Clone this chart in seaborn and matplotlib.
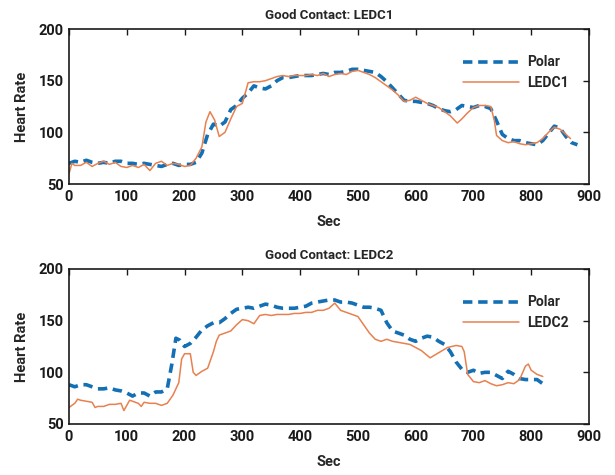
import matplotlib
matplotlib.use('Agg')

import pandas as pd
import matplotlib.pyplot as plt
import seaborn as sns

# Good Contact: LEDC1 panel
polar1_sec = [0, 10, 20, 30, 40, 50, 60, 70, 80, 90, 100, 110, 120, 130, 140, 150, 160, 170, 180, 190,
              200, 210, 220, 230, 240, 250, 260, 270, 280, 290, 300, 310, 320, 330, 340, 350, 360, 370,
              380, 390, 400, 410, 420, 430, 440, 450, 460, 470, 480, 490, 500, 510, 520, 530, 540, 550,
              560, 570, 580, 590, 600, 610, 620, 630, 640, 650, 660, 670, 680, 690, 700, 710, 720, 730,
              740, 750, 760, 770, 780, 790, 800, 810, 820, 830, 840, 850, 860, 870, 880]
polar1_hr = [70, 72, 71, 73, 71, 70, 71, 70, 72, 72, 70, 70, 69, 70, 69, 68, 67, 69, 70, 68,
             69, 69, 71, 80, 98, 108, 106, 110, 122, 126, 133, 138, 145, 143, 142, 145, 150, 153,
             153, 154, 155, 155, 155, 156, 157, 156, 158, 158, 159, 161, 161, 160, 159, 158, 154, 149,
             143, 137, 131, 130, 130, 129, 128, 126, 123, 121, 120, 122, 126, 125, 124, 126, 125, 123,
             111, 98, 94, 92, 92, 90, 89, 88, 92, 99, 106, 104, 96, 90, 88]

ledc1_sec = [0, 5, 10, 20, 30, 40, 50, 60, 70, 80, 90, 100, 110, 120, 130, 140, 150, 160, 170, 180,
             190, 200, 210, 220, 230, 237, 244, 252, 260, 270, 280, 290, 300, 310, 320, 330, 340, 350,
             360, 370, 380, 390, 400, 410, 420, 430, 440, 450, 460, 470, 480, 490, 500, 510, 520, 530,
             540, 550, 560, 570, 580, 590, 600, 610, 620, 630, 640, 650, 660, 672, 680, 690, 700, 710,
             720, 730, 736, 740, 750, 760, 770, 780, 790, 800, 810, 820, 830, 840, 850, 860, 868]
ledc1_hr = [60, 70, 68, 68, 71, 67, 70, 72, 69, 71, 67, 66, 68, 66, 69, 63, 70, 72, 68, 70,
            69, 67, 68, 75, 86, 110, 120, 112, 96, 100, 113, 125, 128, 148, 149, 149, 150, 152,
            154, 155, 154, 155, 155, 155, 156, 155, 157, 154, 156, 157, 156, 159, 160, 158, 156, 153,
            149, 145, 141, 136, 130, 131, 134, 131, 128, 126, 124, 120, 116, 109, 113, 119, 124, 126,
            126, 125, 112, 97, 92, 90, 91, 89, 88, 89, 90, 94, 100, 105, 103, 98, 94]

# Good Contact: LEDC2 panel
polar2_sec = [0, 10, 20, 30, 40, 50, 60, 70, 80, 90, 100, 110, 120, 130, 140, 150, 160, 170, 178, 185,
              192, 200, 210, 220, 230, 240, 250, 260, 270, 280, 290, 300, 310, 320, 330, 340, 350, 360,
              370, 380, 390, 400, 410, 420, 430, 440, 450, 460, 470, 480, 490, 500, 510, 520, 530, 540,
              550, 560, 570, 580, 590, 600, 610, 620, 630, 640, 650, 660, 670, 680, 690, 700, 710, 720,
              730, 740, 750, 760, 770, 780, 790, 800, 810, 820]
polar2_hr = [88, 86, 88, 88, 86, 84, 84, 85, 83, 82, 80, 77, 80, 80, 77, 81, 81, 84, 108, 133,
             131, 125, 128, 134, 141, 145, 148, 148, 152, 157, 161, 162, 163, 162, 164, 166, 165, 163,
             162, 162, 162, 163, 164, 167, 168, 169, 170, 170, 168, 168, 167, 165, 163, 163, 162, 160,
             148, 140, 138, 136, 132, 130, 133, 135, 134, 130, 127, 120, 110, 103, 100, 102, 99, 100,
             100, 97, 94, 101, 98, 94, 93, 93, 93, 89]

ledc2_sec = [0, 10, 15, 20, 30, 40, 45, 50, 60, 70, 80, 90, 95, 100, 105, 110, 120, 125, 130, 140,
             150, 160, 170, 180, 190, 195, 200, 210, 215, 220, 230, 240, 250, 255, 260, 270, 280, 290,
             300, 310, 320, 330, 340, 350, 360, 370, 380, 390, 400, 410, 420, 430, 440, 450, 460, 470,
             480, 490, 500, 510, 520, 530, 540, 550, 560, 570, 580, 590, 600, 610, 625, 640, 655, 670,
             680, 684, 690, 700, 710, 720, 730, 740, 750, 760, 770, 780, 790, 795, 800, 810, 820]
ledc2_hr = [66, 70, 74, 73, 72, 71, 66, 67, 67, 69, 69, 70, 63, 68, 73, 72, 70, 67, 71, 70,
            70, 68, 70, 78, 90, 113, 118, 118, 100, 97, 101, 104, 120, 130, 136, 138, 140, 146,
            151, 150, 147, 155, 156, 155, 156, 156, 156, 157, 157, 158, 158, 160, 160, 162, 167, 160,
            158, 156, 154, 146, 138, 132, 130, 132, 130, 129, 128, 127, 124, 121, 114, 119, 124, 126,
            125, 120, 98, 91, 90, 92, 89, 87, 88, 90, 89, 93, 106, 108, 102, 98, 96]

panels = [
    ("Good Contact: LEDC1", "LEDC1", polar1_sec, polar1_hr, ledc1_sec, ledc1_hr),
    ("Good Contact: LEDC2", "LEDC2", polar2_sec, polar2_hr, ledc2_sec, ledc2_hr),
]

sns.set_style('white')
plt.rcParams['font.family'] = ['Roboto', 'DejaVu Sans']
plt.rcParams['font.weight'] = 'bold'
plt.rcParams['axes.labelweight'] = 'bold'
plt.rcParams['axes.titleweight'] = 'bold'

blue = '#1470b4'
orange = '#e8804f'

fig = plt.figure(figsize=(6.15, 4.75), dpi=100)
ax_pos = [[0.1122, 0.6126, 0.8455, 0.3263], [0.1122, 0.1074, 0.8455, 0.3263]]

for pos, (title, name, psec, phr, lsec, lhr) in zip(ax_pos, panels):
    ax = fig.add_axes(pos)
    polar_df = pd.DataFrame({'Sec': psec, 'Heart Rate': phr})
    led_df = pd.DataFrame({'Sec': lsec, 'Heart Rate': lhr})
    sns.lineplot(data=polar_df, x='Sec', y='Heart Rate', ax=ax, color=blue,
                 linewidth=2.6, label='Polar')
    ax.lines[-1].set_dashes((2.6, 1.6))
    sns.lineplot(data=led_df, x='Sec', y='Heart Rate', ax=ax, color=orange,
                 linewidth=1.1, label=name)

    ax.set_xlim(0, 900)
    ax.set_ylim(50, 200)
    ax.set_xticks(range(0, 901, 100))
    ax.set_yticks([50, 100, 150, 200])
    ax.tick_params(direction='in', top=True, right=True, length=4, width=1,
                   labelsize=10.5, colors='#1a1a1a', pad=4)
    for lbl in ax.get_xticklabels() + ax.get_yticklabels():
        lbl.set_fontweight('bold')
    for sp in ax.spines.values():
        sp.set_color('#1a1a1a')
        sp.set_linewidth(1.2)
    ax.set_title(title, fontsize=9.5, pad=7)
    ax.set_xlabel('Sec', fontsize=10.5, labelpad=8)
    ax.set_ylabel('Heart Rate', fontsize=10.5, labelpad=7)
    ax.legend(loc='upper right', bbox_to_anchor=(0.985, 0.91), frameon=False,
              handlelength=4.0, fontsize=10, labelspacing=0.45, handletextpad=0.6)

plt.savefig('out.png', dpi=100)
plt.close()
